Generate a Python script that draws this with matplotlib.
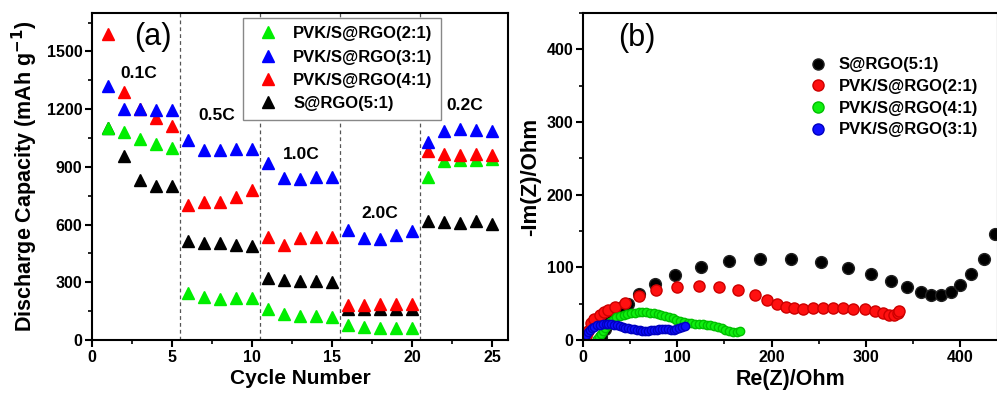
import numpy as np
import matplotlib.pyplot as plt
from matplotlib.ticker import MultipleLocator

plt.rcParams['font.family'] = ['Liberation Sans', 'DejaVu Sans']
plt.rcParams['font.weight'] = 'bold'
plt.rcParams['axes.linewidth'] = 1.5

# (a) rate capability
cycles = list(range(1, 26))
cap_2to1 = [1100, 1080, 1045, 1020, 1000, 245, 225, 215, 220, 220,
            160, 135, 125, 125, 120, 80, 70, 65, 60, 60,
            850, 930, 935, 935, 940]
cap_3to1 = [1322, 1200, 1200, 1195, 1198, 1040, 990, 990, 995, 995,
            920, 840, 835, 845, 845, 570, 530, 525, 545, 565,
            1030, 1085, 1095, 1090, 1085]
cap_4to1 = [1590, 1288, 1200, 1152, 1110, 700, 715, 715, 745, 780,
            535, 495, 530, 535, 535, 180, 180, 185, 185, 185,
            985, 965, 960, 965, 960]
cap_5to1 = [1100, 955, 830, 800, 800, 515, 505, 505, 495, 490,
            320, 310, 305, 305, 300, 160, 160, 160, 160, 160,
            620, 615, 610, 620, 605]
rate_bounds = [5.5, 10.5, 15.5, 20.5]
rate_labels = ['0.1C', '0.5C', '1.0C', '2.0C', '0.2C']
rate_pos = [(2.95, 1385), (7.8, 1167), (13.1, 963), (18.0, 656), (23.3, 1219)]

# (b) Nyquist plots
re_5to1 = [17, 19.4, 23, 28, 35, 41, 47.7, 59, 76, 98, 124.7, 154.8, 188, 220.8,
           252.7, 281, 305.7, 326.9, 343.5, 358.7, 369, 380, 390.5, 400, 411.7,
           425.8, 437.5]
im_5to1 = [0.5, 4.6, 15, 27, 38, 45, 49.5, 63, 76.6, 89.4, 100, 108.7, 112, 111.5,
           107.3, 99.5, 90.4, 81.2, 72.5, 66.5, 62, 62, 66.5, 75.7, 90.4, 111, 145.4]
re_2to1 = [3, 5, 8.8, 12, 17.7, 22, 26.5, 33.6, 44.2, 59.4, 77.7, 99.6, 122.6, 144.2,
           164.3, 182, 195, 205.7, 215.5, 223.7, 233.2, 243.8, 254.4, 265, 275.6,
           286.2, 298.6, 309.2, 318, 325, 330.4, 334, 335.7]
im_2to1 = [5, 12, 23, 29, 34.4, 38, 41.3, 45, 51.4, 60.6, 68.8, 73.4, 74.8, 73.4,
           68.8, 61.5, 54.6, 49, 45.9, 43.6, 43.1, 43.6, 44, 44.5, 44, 43.1, 42.2,
           39.4, 36.7, 34.9, 34.4, 36.7, 40.4]
re_4to1 = [15, 17, 19, 21, 23, 26, 29, 32, 35, 39, 43, 47, 51, 55, 59, 63, 67, 71,
           75, 79, 83, 87, 91, 95, 99, 103, 107, 111, 115, 119, 123, 127, 131, 135,
           139, 143, 147, 151, 155, 159, 163, 167]
im_4to1 = [1, 4, 8, 12, 16, 21, 25, 28, 31, 33, 35, 36, 37, 37.5, 38, 38, 38, 37.5,
           37, 36, 35, 33.5, 32, 30, 28, 26.5, 25, 24, 23, 22.5, 22, 21.5, 21, 20.5,
           19.5, 18, 16, 14, 12, 11, 11.5, 12.5]
re_3to1 = [1, 3, 5, 7, 9, 12, 15, 18, 21, 24, 27, 30, 33, 36, 39, 42, 45, 48, 51,
           54, 57, 60, 63, 66, 69, 72, 75, 78, 81, 84, 87, 90, 93, 96, 99, 102, 105, 108]
im_3to1 = [3, 7, 11, 14, 16.5, 18.5, 20, 21, 21.5, 22, 22, 21.5, 21, 20, 19, 18, 17,
           16, 15, 14.5, 14, 13.5, 13, 13, 13, 13.5, 14, 14, 14.5, 14.5, 14.5, 14.5,
           14, 14, 14.5, 16, 18, 19.5]

fig = plt.figure(figsize=(9.97, 3.94), dpi=100)
ax1 = fig.add_axes([0.0923, 0.137, 0.4173, 0.830])
ax2 = fig.add_axes([0.5848, 0.137, 0.416, 0.830])

# ---- panel (a)
for xb in rate_bounds:
    ax1.axvline(xb, color='#555555', linestyle=(0, (3, 2.5)), linewidth=0.9, zorder=1)
h5, = ax1.plot(cycles, cap_5to1, '^', color='black', ms=8.5, label='S@RGO(5:1)')
h2, = ax1.plot(cycles, cap_2to1, '^', color='#00ee00', ms=8.5, label='PVK/S@RGO(2:1)')
h4, = ax1.plot(cycles, cap_4to1, '^', color='#ff0000', ms=8.5, label='PVK/S@RGO(4:1)')
h3, = ax1.plot(cycles, cap_3to1, '^', color='#0000ff', ms=8.5, label='PVK/S@RGO(3:1)')
for lab, (x, y) in zip(rate_labels, rate_pos):
    ax1.text(x, y, lab, fontsize=12.5, fontweight='bold', ha='center', va='center')
ax1.text(3.8, 1573, '(a)', fontsize=22, fontweight='normal', ha='center', va='center')

ax1.set_xlim(0, 26)
ax1.set_ylim(0, 1700)
ax1.xaxis.set_major_locator(MultipleLocator(5))
ax1.xaxis.set_minor_locator(MultipleLocator(2.5))
ax1.yaxis.set_major_locator(MultipleLocator(300))
ax1.yaxis.set_minor_locator(MultipleLocator(150))
ax1.set_xlabel('Cycle Number', fontsize=15, fontweight='bold', labelpad=3)
ax1.set_ylabel('Discharge Capacity (mAh g$^{\\mathbf{-1}}$)', fontsize=15.5,
               fontweight='bold', labelpad=5)
leg1 = ax1.legend(handles=[h2, h3, h4, h5], loc='upper left',
                  bbox_to_anchor=(0.363, 0.985), borderaxespad=0, fancybox=False,
                  edgecolor='#888888', prop={'size': 12, 'weight': 'bold'},
                  handletextpad=0.5, borderpad=0.5, labelspacing=0.5, framealpha=1)

# ---- panel (b)
ax2.plot(re_5to1, im_5to1, 'o', color='black', mec='#222222', ms=8.5, label='S@RGO(5:1)')
ax2.plot(re_2to1, im_2to1, 'o', color='#ff1010', mec='#cc0000', ms=8, label='PVK/S@RGO(2:1)')
ax2.plot(re_4to1, im_4to1, 'o', color='#10f010', mec='#00c000', ms=6, label='PVK/S@RGO(4:1)')
ax2.plot(re_3to1, im_3to1, 'o', color='#1010ff', mec='#0000c0', ms=6, label='PVK/S@RGO(3:1)')
ax2.text(57, 416, '(b)', fontsize=22, fontweight='normal', ha='center', va='center')

ax2.set_xlim(0, 440)
ax2.set_ylim(0, 450)
ax2.xaxis.set_major_locator(MultipleLocator(100))
ax2.xaxis.set_minor_locator(MultipleLocator(50))
ax2.yaxis.set_major_locator(MultipleLocator(100))
ax2.yaxis.set_minor_locator(MultipleLocator(50))
ax2.set_xlabel('Re(Z)/Ohm', fontsize=15.5, fontweight='bold', labelpad=3)
ax2.set_ylabel('-Im(Z)/Ohm', fontsize=16, fontweight='bold', labelpad=4)
leg2 = ax2.legend(loc='upper left', bbox_to_anchor=(0.49, 0.91), frameon=False,
                  prop={'size': 12, 'weight': 'bold'}, handletextpad=0.25,
                  labelspacing=0.4, markerscale=1.0)
for h in leg2.legend_handles:
    h.set_markersize(8)

for ax in (ax1, ax2):
    ax.tick_params(which='major', direction='out', length=5, width=1.5,
                   labelsize=11.5, pad=2)
    ax.tick_params(which='minor', direction='out', length=3, width=1.2)
    ax.tick_params(top=False, right=False, which='both')
    for lbl in ax.get_xticklabels() + ax.get_yticklabels():
        lbl.set_fontweight('bold')

fig.savefig('out.png', dpi=100)
